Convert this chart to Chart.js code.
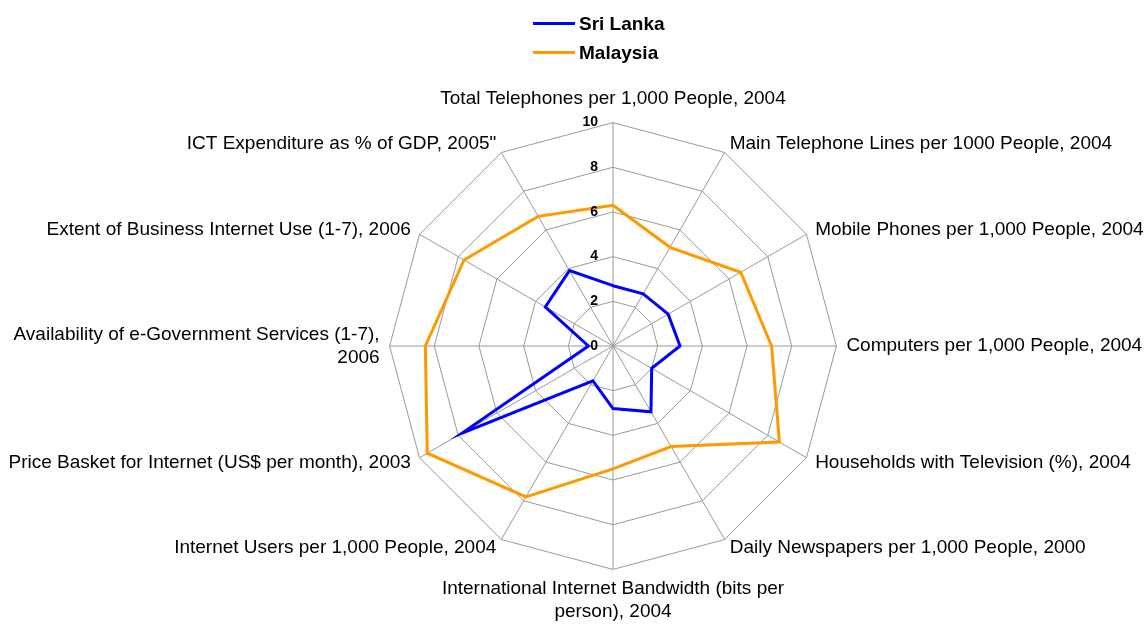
<!DOCTYPE html>
<html>
<head>
<meta charset="utf-8">
<script src="https://cdn.jsdelivr.net/npm/chart.js@4/dist/chart.umd.min.js"></script>
<style>
  html, body { margin: 0; padding: 0; background: #fff; overflow: hidden; }
  #page { position: relative; width: 1144px; height: 626px; overflow: hidden; }
  /* canvas box is a bit wider than the page so the long labels can reach the edges */
  #wrap { position: absolute; left: -60px; top: 0; width: 1346px; height: 633px; }
  #legend { position: absolute; left: 533px; top: 9px; font: bold 19px "Liberation Sans", Arial, sans-serif; color: #000; }
  #legend .item { display: flex; align-items: center; height: 29px; }
  #legend .swatch { width: 42px; height: 3px; margin-right: 4px; }
</style>
</head>
<body>
<div id="page">
  <div id="wrap"><canvas id="radar"></canvas></div>
  <div id="legend"></div>
</div>
<script>
const categories = [
  'Total Telephones per 1,000 People, 2004',
  'Main Telephone Lines per 1000 People, 2004',
  'Mobile Phones per 1,000 People, 2004',
  'Computers per 1,000 People, 2004',
  'Households with Television (%), 2004',
  'Daily Newspapers per 1,000 People, 2000',
  ['International Internet Bandwidth (bits per', 'person), 2004'],
  'Internet Users per 1,000 People, 2004',
  'Price Basket for Internet (US$ per month), 2003',
  ['Availability of e-Government Services (1-7),', '2006'],
  'Extent of Business Internet Use (1-7), 2006',
  'ICT Expenditure as % of GDP, 2005"'
];
const sriLanka = [2.7, 2.7, 2.85, 3.0, 2.0, 3.4, 2.8, 1.8, 7.8, 1.1, 3.5, 3.9];
const malaysia = [6.3, 5.1, 6.6, 7.1, 8.6, 5.2, 5.5, 7.8, 9.6, 8.4, 7.7, 6.7];
const tickValues = [0, 2, 4, 6, 8, 10];

// tick labels sit just left of the vertical axis, like the original
const tickLabelPlugin = {
  id: 'tickLabels',
  afterDatasetsDraw(chart) {
    const scale = chart.scales.r;
    const ctx = chart.ctx;
    ctx.save();
    ctx.font = 'bold 14px "Liberation Sans", Arial, sans-serif';
    ctx.fillStyle = '#000';
    ctx.textAlign = 'right';
    ctx.textBaseline = 'middle';
    tickValues.forEach((v) => {
      const d = scale.getDistanceFromCenterForValue(v);
      ctx.fillText(String(v), scale.xCenter - 15, scale.yCenter - d);
    });
    ctx.restore();
  },
};

const isDiagonal = (i) => i % 3 !== 0;

const chart = new Chart(document.getElementById('radar'), {
  type: 'radar',
  data: {
    labels: categories,
    datasets: [
      {
        label: 'Sri Lanka',
        data: sriLanka,
        borderColor: '#0000ff',
        backgroundColor: '#0000ff',
        borderWidth: 3,
        fill: false,
        pointRadius: 0,
        tension: 0,
      },
      {
        label: 'Malaysia',
        data: malaysia,
        borderColor: '#ff9900',
        backgroundColor: '#ff9900',
        borderWidth: 3,
        fill: false,
        pointRadius: 0,
        tension: 0,
      },
    ],
  },
  options: {
    responsive: true,
    maintainAspectRatio: false,
    animation: false,
    layout: { padding: { top: 79, bottom: 0, left: 0, right: 0 } },
    plugins: {
      legend: { display: false },
      tooltip: { enabled: false },
    },
    scales: {
      r: {
        min: 0,
        max: 10,
        ticks: { stepSize: 2, display: false },
        grid: { color: '#999', lineWidth: 1 },
        angleLines: { color: '#999', lineWidth: 1 },
        pointLabels: {
          color: '#000',
          padding: (ctx) => (ctx.index === 0 ? 12 : ctx.index === 6 ? 8 : 10),
          // diagonal labels are centred on their spoke end, like Excel does
          font: (ctx) => ({
            family: '"Liberation Sans", Arial, sans-serif',
            size: 19,
            lineHeight: isDiagonal(ctx.index) ? 0 : 1.2,
          }),
        },
      },
    },
  },
  plugins: [tickLabelPlugin],
});

// legend stacked in two rows, built from the datasets
const legendEl = document.getElementById('legend');
chart.data.datasets.forEach((ds) => {
  const item = document.createElement('div');
  item.className = 'item';
  const sw = document.createElement('span');
  sw.className = 'swatch';
  sw.style.background = ds.borderColor;
  const txt = document.createElement('span');
  txt.textContent = ds.label;
  item.appendChild(sw);
  item.appendChild(txt);
  legendEl.appendChild(item);
});
</script>
</body>
</html>
